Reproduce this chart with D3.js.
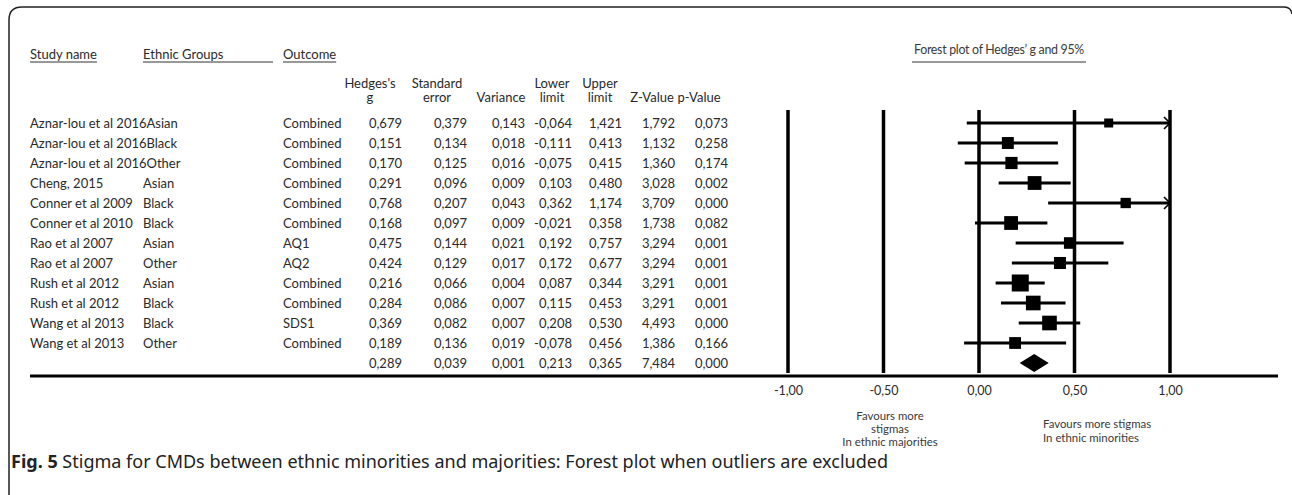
<!DOCTYPE html>
<html>
<head>
<meta charset="utf-8">
<script src="https://cdn.jsdelivr.net/npm/d3@7"></script>
<style>
  body { margin: 0; background: #fff; }
  svg { display: block; }
  .tbl { font-family: Lato, "Open Sans", sans-serif; font-size: 13px; fill: #2a2a2a; }
  .small { font-family: Lato, "Open Sans", sans-serif; font-size: 11.4px; fill: #3a3a3a; }
</style>
</head>
<body>
<svg id="chart" width="1292" height="495"></svg>
<script>
// study rows
const studyNames = ["Aznar-lou et al 2016", "Aznar-lou et al 2016", "Aznar-lou et al 2016", "Cheng, 2015",
  "Conner et al 2009", "Conner et al 2010", "Rao et al 2007", "Rao et al 2007",
  "Rush et al 2012", "Rush et al 2012", "Wang et al 2013", "Wang et al 2013"];
const ethnicGroups = ["Asian", "Black", "Other", "Asian", "Black", "Black", "Asian", "Other", "Asian", "Black", "Black", "Other"];
const outcomes = ["Combined", "Combined", "Combined", "Combined", "Combined", "Combined", "AQ1", "AQ2", "Combined", "Combined", "SDS1", "Combined"];
const hedgesG = [0.679, 0.151, 0.170, 0.291, 0.768, 0.168, 0.475, 0.424, 0.216, 0.284, 0.369, 0.189];
const stdError = [0.379, 0.134, 0.125, 0.096, 0.207, 0.097, 0.144, 0.129, 0.066, 0.086, 0.082, 0.136];
const variance = [0.143, 0.018, 0.016, 0.009, 0.043, 0.009, 0.021, 0.017, 0.004, 0.007, 0.007, 0.019];
const lowerLimit = [-0.064, -0.111, -0.075, 0.103, 0.362, -0.021, 0.192, 0.172, 0.087, 0.115, 0.208, -0.078];
const upperLimit = [1.421, 0.413, 0.415, 0.480, 1.174, 0.358, 0.757, 0.677, 0.344, 0.453, 0.530, 0.456];
const zValue = [1.792, 1.132, 1.360, 3.028, 3.709, 1.738, 3.294, 3.294, 3.291, 3.291, 4.493, 1.386];
const pValue = [0.073, 0.258, 0.174, 0.002, 0.000, 0.082, 0.001, 0.001, 0.001, 0.001, 0.000, 0.166];

// pooled estimate: g, se, variance, lower, upper, z, p
const pooled = [0.289, 0.039, 0.001, 0.213, 0.365, 7.484, 0.000];

const axisTicks = [-1, -0.5, 0, 0.5, 1];

const svg = d3.select("#chart");
const fmt = v => d3.format(".3f")(v).replace(".", ",").replace("−", "-");

// frame of the figure panel
svg.append("path")
  .attr("d", "M9,495 L9,20 Q9,7 22,7 L1284,7 Q1291,7 1292,14")
  .attr("fill", "none")
  .attr("stroke", "#222")
  .attr("stroke-width", 1.5);

const nRows = studyNames.length;
const y = d3.scaleLinear().domain([0, nRows]).range([123, 363]);

// column headers (underlined)
const heads = [
  { t: "Study name", x: 30, ux2: null },
  { t: "Ethnic Groups", x: 143, ux2: 273 },
  { t: "Outcome", x: 283, ux2: null }
];
heads.forEach(h => {
  const txt = svg.append("text").attr("class", "tbl").attr("x", h.x).attr("y", 54).attr("dy", "0.35em").text(h.t);
  const w = txt.node().getComputedTextLength();
  svg.append("line").attr("x1", h.x).attr("x2", h.ux2 || h.x + w)
    .attr("y1", 62).attr("y2", 62).attr("stroke", "#333").attr("stroke-width", 1);
});

// numeric columns: right edge of values and header centre
const cols = [
  { data: hedgesG, right: 402, head: ["Hedges's", "g"], hx: 370 },
  { data: stdError, right: 467, head: ["Standard", "error"], hx: 437 },
  { data: variance, right: 525, head: ["", "Variance"], hx: 501 },
  { data: lowerLimit, right: 572, head: ["Lower", "limit"], hx: 552 },
  { data: upperLimit, right: 622, head: ["Upper", "limit"], hx: 600 },
  { data: zValue, right: 675, head: ["", "Z-Value"], hx: 652 },
  { data: pValue, right: 728, head: ["", "p-Value"], hx: 699 }
];

cols.forEach((c, ci) => {
  c.head.forEach((h, k) => {
    if (!h) return;
    svg.append("text").attr("class", "tbl").attr("x", c.hx).attr("y", k ? 97 : 83)
      .attr("dy", "0.35em").attr("text-anchor", "middle").text(h);
  });
  svg.append("g").selectAll("text")
    .data(c.data.concat([pooled[ci]]))
    .join("text")
    .attr("class", "tbl")
    .attr("x", c.right)
    .attr("y", (d, i) => y(i))
    .attr("dy", "0.35em")
    .attr("text-anchor", "end")
    .text(d => fmt(d));
});

// study name, ethnic group (pushed right if the name overflows), outcome
studyNames.forEach((s, i) => {
  const t = svg.append("text").attr("class", "tbl").attr("x", 30).attr("y", y(i)).attr("dy", "0.35em").text(s);
  const end = 30 + t.node().getComputedTextLength();
  svg.append("text").attr("class", "tbl").attr("x", Math.max(143, end)).attr("y", y(i)).attr("dy", "0.35em").text(ethnicGroups[i]);
  svg.append("text").attr("class", "tbl").attr("x", 283).attr("y", y(i)).attr("dy", "0.35em").text(outcomes[i]);
});

// ---- forest plot ----
const x = d3.scaleLinear().domain([-1, 1]).range([788, 1170]);
const size = d3.scalePow().exponent(0.5)
  .domain(d3.extent(variance, v => 1 / v)).range([9, 17]);

svg.append("text").attr("class", "small")
  .attr("x", 999).attr("y", 50).attr("dy", "0.35em").attr("text-anchor", "middle")
  .style("font-size", "12.4px").style("letter-spacing", "-0.3px")
  .text("Forest plot of Hedges\u2019 g and 95%");
svg.append("line").attr("x1", 912).attr("x2", 1086).attr("y1", 62).attr("y2", 62)
  .attr("stroke", "#333").attr("stroke-width", 1.2);

// reference lines at each tick
svg.append("g").selectAll("line")
  .data(axisTicks)
  .join("line")
  .attr("x1", d => x(d)).attr("x2", d => x(d))
  .attr("y1", 110).attr("y2", 373)
  .attr("stroke", "#000").attr("stroke-width", 3.5);

const rows = hedgesG.map((g, i) => ({ g, lo: lowerLimit[i], hi: upperLimit[i], w: 1 / variance[i], i }));
const xmax = x.domain()[1];

const fg = svg.append("g");
fg.selectAll("line.ci")
  .data(rows)
  .join("line")
  .attr("class", "ci")
  .attr("x1", d => x(d.lo))
  .attr("x2", d => x(Math.min(d.hi, xmax)))
  .attr("y1", d => y(d.i)).attr("y2", d => y(d.i))
  .attr("stroke", "#000").attr("stroke-width", 3.2);

// open arrow heads where the interval runs past the axis
fg.selectAll("path.arrow")
  .data(rows.filter(d => d.hi > xmax))
  .join("path")
  .attr("class", "arrow")
  .attr("d", d => {
    const ax = x(xmax), ay = y(d.i);
    return `M${ax - 6},${ay - 6} L${ax},${ay} L${ax - 6},${ay + 6}`;
  })
  .attr("fill", "none").attr("stroke", "#000").attr("stroke-width", 1.6);

fg.selectAll("rect")
  .data(rows)
  .join("rect")
  .attr("x", d => x(d.g) - size(d.w) / 2)
  .attr("y", d => y(d.i) - size(d.w) / 2)
  .attr("width", d => size(d.w))
  .attr("height", d => size(d.w))
  .attr("fill", "#000");

// pooled diamond
const py = y(nRows);
svg.append("path")
  .attr("d", `M${x(pooled[3])},${py} L${x(pooled[0])},${py - 9} L${x(pooled[4])},${py} L${x(pooled[0])},${py + 9} Z`)
  .attr("fill", "#000");

// bottom rule and axis labels
svg.append("line").attr("x1", 30).attr("x2", 1278).attr("y1", 376).attr("y2", 376)
  .attr("stroke", "#000").attr("stroke-width", 3);

const axis = svg.append("g")
  .attr("transform", "translate(0,376)")
  .call(d3.axisBottom(x).tickValues(axisTicks).tickSize(0).tickPadding(10).tickFormat(d => d3.format(".2f")(d).replace(".", ",").replace("−", "-")));
axis.select(".domain").remove();
axis.selectAll("text").attr("class", "tbl").style("font-size", "12.5px").attr("fill", "#2a2a2a");

// favours labels
const leftNote = ["Favours more", "stigmas", "In ethnic majorities"];
const rightNote = ["Favours more stigmas", "In ethnic minorities"];
svg.append("g").selectAll("text").data(leftNote).join("text")
  .attr("class", "small").attr("x", 890).attr("y", (d, i) => 416 + i * 13)
  .attr("dy", "0.35em").attr("text-anchor", "middle").text(d => d);
svg.append("g").selectAll("text").data(rightNote).join("text")
  .attr("class", "small").attr("x", 1043).attr("y", (d, i) => 424 + i * 14)
  .attr("dy", "0.35em").text(d => d);

// caption
const cap = svg.append("text")
  .attr("x", 11).attr("y", 468)
  .style("font-family", "'Noto Sans', 'Open Sans', sans-serif")
  .style("font-size", "18px")
  .attr("fill", "#222");
cap.append("tspan").style("font-weight", "bold").text("Fig. 5");
cap.append("tspan").text(" Stigma for CMDs between ethnic minorities and majorities: Forest plot when outliers are excluded");
</script>
</body>
</html>
